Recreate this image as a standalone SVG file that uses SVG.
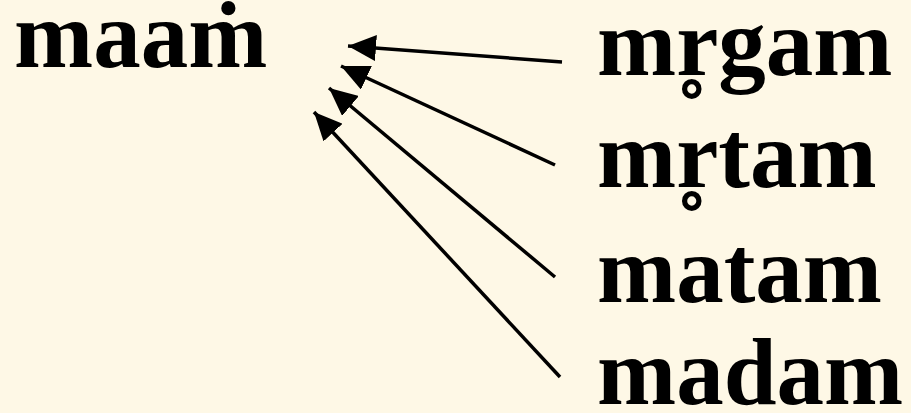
<svg xmlns="http://www.w3.org/2000/svg" width="911" height="413" viewBox="0 0 911 413">
<style>
.t{font-family:"Liberation Serif","DejaVu Serif",serif;font-weight:bold;font-size:95px;fill:#000}
.c{stroke:#000;stroke-width:3.5;fill:none}
</style>
<defs>
<marker id="ah" markerUnits="userSpaceOnUse" markerWidth="30" markerHeight="26" refX="28" refY="13" orient="auto" viewBox="0 0 30 26">
<path d="M0,0 L28,13 L0,26 Z" fill="#000"/>
</marker>
</defs>
<rect width="911" height="413" fill="#FEF8E6"/>
<g id="maam"><text class="t" x="14" y="67">maaṁ</text></g>
<g id="mrgam"><text class="t" x="597" y="75">mr̥gam</text></g>
<g id="mrtam"><text class="t" x="597" y="187">mr̥tam</text></g>
<g id="matam"><text class="t" x="597" y="302">matam</text></g>
<g id="madam"><text class="t" x="597" y="404">madam</text></g>
<g id="connectors">
<line class="c" x1="562" y1="62" x2="348" y2="46" marker-end="url(#ah)"/>
<line class="c" x1="555" y1="165" x2="341" y2="66" marker-end="url(#ah)"/>
<line class="c" x1="555" y1="277" x2="329" y2="88" marker-end="url(#ah)"/>
<line class="c" x1="560" y1="377" x2="314" y2="112" marker-end="url(#ah)"/>
</g>
</svg>
